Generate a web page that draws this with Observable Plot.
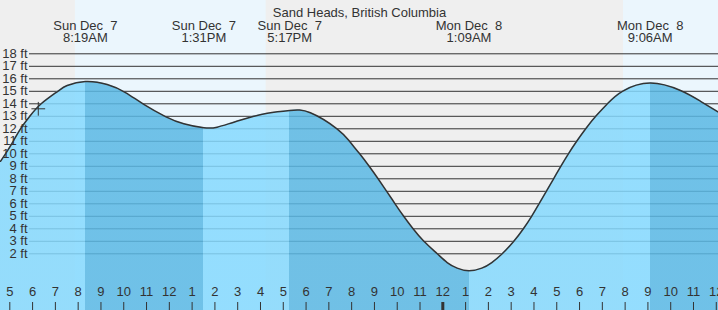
<!DOCTYPE html>
<html>
<head>
<meta charset="utf-8">
<script src="https://cdn.jsdelivr.net/npm/d3@7"></script>
<script src="https://cdn.jsdelivr.net/npm/@observablehq/plot@0.6"></script>
<style>
  html, body { margin: 0; padding: 0; background: #efefef; }
  svg text { white-space: pre; }
</style>
</head>
<body>
<div id="chart"></div>
<script>
// ---- data (hours since Sun Dec 7 00:00, heights in ft) ----
const title = "Sand Heads, British Columbia";

const extremeDays  = ["Sun Dec  7", "Sun Dec  7", "Sun Dec  7", "Mon Dec  8", "Mon Dec  8"];
const extremeTimes = ["8:19AM", "1:31PM", "5:17PM", "1:09AM", "9:06AM"];
const extremeHours = [8.317, 13.517, 17.283, 25.15, 33.1];
const extremeFeet  = [15.78, 12.08, 13.47, 0.64, 15.66];

// readings of the tide curve between the extremes
const readHours = [4.592, 4.811, 5.149, 5.47, 5.878, 6.378, 7.106, 7.519,
  9.274, 10.077, 10.88, 11.832, 12.635,
  14.1, 14.83, 15.706, 16.3,
  18.19, 19.357, 19.906, 20.353, 20.77, 21.161, 21.538, 21.906, 22.284, 22.696, 23.17, 23.758, 24.192, 24.631,
  25.71, 26.15, 26.606, 27.115, 27.536, 27.896, 28.221, 28.541, 28.861, 29.177, 29.511, 29.875, 30.27, 30.709, 31.222, 31.88,
  34.43, 35.31, 36.097];
const readFeet = [9.4, 10, 11, 12, 13, 14, 15, 15.46,
  15.54, 14.9, 13.95, 12.98, 12.4,
  12.13, 12.53, 13, 13.25,
  13.28, 12, 11, 10, 9, 8, 7, 6, 5, 4, 3, 2, 1.3, 0.85,
  0.85, 1.3, 2, 3, 4, 5, 6, 7, 8, 9, 10, 11, 12, 13, 14, 15,
  15.06, 14.2, 13.33];

const dayStarts = [7.88, 31.93];
const dayEnds   = [16.25, 36.1];

const nowHour = 6.25;
const nowFeet = 13.6;

const ftTicks = [2, 3, 4, 5, 6, 7, 8, 9, 10, 11, 12, 13, 14, 15, 16, 17, 18];
const hourTicks = d3.range(5, 37);

const risingColor = "rgb(133,217,254)";
const fallingColor = "rgb(90,184,228)";

// ---- build tables ----
const tide = readHours.map((h, i) => ({h, ft: readFeet[i]}))
  .concat(extremeHours.map((h, i) => ({h, ft: extremeFeet[i]})))
  .sort((a, b) => a.h - b.h);

const xDomain = [4.592, 36.097];
const yDomain = [-2.536, 22.264];

const extremes = extremeHours.map((h, i) => ({h, day: extremeDays[i], time: extremeTimes[i]}));
const days = dayStarts.map((s, i) => ({s, e: dayEnds[i]}));

const chart = Plot.plot({
  width: 718,
  height: 310,
  marginTop: 0, marginRight: 0, marginBottom: 0, marginLeft: 29,
  x: {domain: xDomain, range: [0, 718], axis: null},
  y: {domain: yDomain, range: [310, 0], label: null},
  style: {background: "#efefef", fontFamily: "'Liberation Sans', Arial, sans-serif", fontSize: "13px", color: "#333"},
  marks: [
    Plot.rect(days, {x1: "s", x2: "e", fill: "#ebf6fd"}),
    Plot.gridY({ticks: ftTicks, stroke: "#333", strokeOpacity: 1, strokeWidth: 1}),
    Plot.areaY(tide, {x: "h", y1: yDomain[0], y2: "ft", fill: "url(#tideBands)", fillOpacity: 0.85, curve: "natural"}),
    Plot.line(tide, {x: "h", y: "ft", stroke: "#333", strokeWidth: 1.5, curve: "natural"}),
    Plot.dot([{h: nowHour, ft: nowFeet}], {x: "h", y: "ft", symbol: "plus", r: 4.5, stroke: "#333", strokeWidth: 1}),
    Plot.axisY({ticks: ftTicks, anchor: "left", label: null, tickSize: 0, tickPadding: 2, tickFormat: d => `${d} ft`, fontSize: 13, fill: "#333"}),
    Plot.text([title], {frameAnchor: "top", dx: -14.5, dy: 7.3, text: d => d, fill: "#333"}),
    Plot.text(extremes, {x: "h", frameAnchor: "top", dy: 19.8, text: "day", fill: "#333"}),
    Plot.text(extremes, {x: "h", frameAnchor: "top", dy: 31.8, text: "time", fill: "#333"}),
    Plot.ruleX(hourTicks, {x: d => d, insetTop: 302, stroke: "#333", strokeWidth: 1}),
    Plot.ruleX(hourTicks.filter(d => d % 24 === 0), {x: d => d, insetTop: 302, stroke: "#333", strokeWidth: 3}),
    Plot.text(hourTicks, {x: d => d, frameAnchor: "bottom", dy: -14.2, text: d => String(((d - 1) % 12) + 1), fill: "#333"})
  ]
});

// rising / falling bands as a hard-stop gradient placed through the x scale
const xs = chart.scale("x");
const W = 718;
const grad = d3.select(chart).insert("defs", ":first-child")
  .append("linearGradient")
  .attr("id", "tideBands")
  .attr("gradientUnits", "userSpaceOnUse")
  .attr("x1", 0).attr("x2", W).attr("y1", 0).attr("y2", 0);
let prev = 0;
let rising = true;
for (const h of extremeHours) {
  const off = Math.max(0, Math.min(1, xs.apply(h) / W));
  const c = rising ? risingColor : fallingColor;
  grad.append("stop").attr("offset", prev).attr("stop-color", c);
  grad.append("stop").attr("offset", off).attr("stop-color", c);
  prev = off;
  rising = !rising;
}
const cLast = rising ? risingColor : fallingColor;
grad.append("stop").attr("offset", prev).attr("stop-color", cLast);
grad.append("stop").attr("offset", 1).attr("stop-color", cLast);

document.getElementById("chart").appendChild(chart);
</script>
</body>
</html>
